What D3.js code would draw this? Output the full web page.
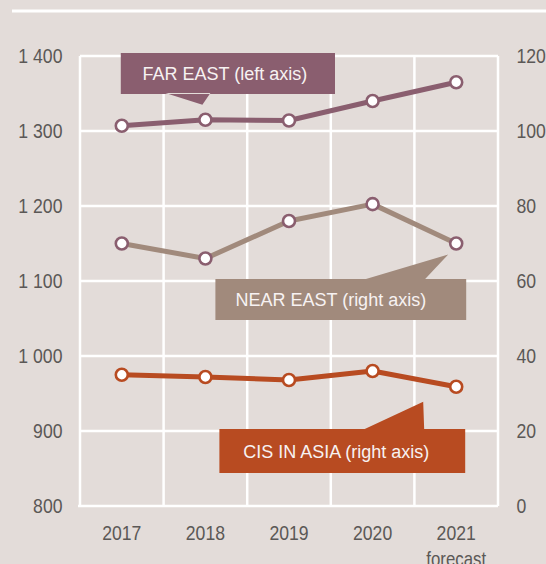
<!DOCTYPE html>
<html>
<head>
<meta charset="utf-8">
<script src="https://cdn.jsdelivr.net/npm/d3@7"></script>
<style>
  html, body { margin: 0; padding: 0; background: #e3dcd9; }
  svg { display: block; }
</style>
</head>
<body>
<div id="chart"></div>
<script>
const years = ["2017", "2018", "2019", "2020", "2021"];
const farEast = [1307, 1315, 1314, 1340, 1365];   // left axis
const nearEast = [70, 66, 76, 80.5, 70];          // right axis
const cisAsia = [35, 34.4, 33.6, 36, 31.8];       // right axis
const leftTicks = [800, 900, 1000, 1100, 1200, 1300, 1400];
const rightTicks = [0, 20, 40, 60, 80, 100, 120];

const width = 546, height = 564;
const margin = { top: 56, right: 48, bottom: 58, left: 80 };

const cFar = "#8a5e6f", cNear = "#a18a7c", cCis = "#b84b21";
const axisFont = "'Liberation Sans', Arial, sans-serif";
const narrow = "scale(0.84,1)"; // the original uses a condensed face

const svg = d3.select("#chart")
  .append("svg")
  .attr("width", width)
  .attr("height", height)
  .attr("viewBox", [0, 0, width, height]);

svg.append("rect")
  .attr("width", width)
  .attr("height", height)
  .attr("fill", "#e3dcd9");

// white rule under the (cut off) header
svg.append("line")
  .attr("x1", 12).attr("x2", width)
  .attr("y1", 11).attr("y2", 11)
  .attr("stroke", "#fff")
  .attr("stroke-width", 3);

const x = d3.scaleBand()
  .domain(years)
  .range([margin.left, width - margin.right])
  .padding(0);

const yL = d3.scaleLinear()
  .domain([800, 1400])
  .range([height - margin.bottom, margin.top]);

const yR = d3.scaleLinear()
  .domain([0, 120])
  .range([height - margin.bottom, margin.top]);

const cx = d => x(d) + x.bandwidth() / 2;

// grid
const grid = svg.append("g").attr("stroke", "#fff").attr("stroke-width", 2.5);
grid.selectAll(".h")
  .data(leftTicks)
  .join("line")
  .attr("x1", d => d === 800 ? margin.left - 2 : margin.left)
  .attr("x2", width - margin.right)
  .attr("y1", d => yL(d))
  .attr("y2", d => yL(d));

grid.selectAll(".v")
  .data(years.map(d => x(d)).concat([x.range()[1]]))
  .join("line")
  .attr("x1", d => d)
  .attr("x2", d => d)
  .attr("y1", margin.top)
  .attr("y2", height - margin.bottom);

const styleTicks = g => g.selectAll("text")
  .attr("font-family", axisFont)
  .attr("font-size", 21)
  .attr("fill", "#5b5856")
  .attr("transform", narrow);

// left axis
svg.append("g")
  .attr("transform", `translate(${margin.left - 15},0)`)
  .call(d3.axisLeft(yL).tickValues(leftTicks).tickSize(0)
    .tickFormat(d => d3.format(",")(d).replace(",", " ")))
  .call(g => g.select(".domain").remove())
  .call(styleTicks);

// right axis
svg.append("g")
  .attr("transform", `translate(${width - margin.right + 16},0)`)
  .call(d3.axisRight(yR).tickValues(rightTicks).tickSize(0))
  .call(g => g.select(".domain").remove())
  .call(styleTicks);

// bottom axis
svg.append("g")
  .attr("transform", `translate(0,${height - margin.bottom + 16})`)
  .call(d3.axisBottom(x).tickSize(0))
  .call(g => g.select(".domain").remove())
  .call(styleTicks);

svg.append("g")
  .attr("transform", `translate(${cx("2021")},566)`)
  .append("text")
  .attr("text-anchor", "middle")
  .attr("font-family", axisFont)
  .attr("font-size", 20)
  .attr("fill", "#5b5856")
  .attr("transform", narrow)
  .text("forecast");

// callouts
const calloutFont = "'Liberation Sans', Arial, sans-serif";
function callout(o) {
  const g = svg.append("g");
  g.append("path")
    .attr("fill", o.color)
    .attr("d", `M${o.x0},${o.y0}H${o.x1}V${o.y1}H${o.x0}Z` +
      `M${o.b0},${o.by}L${o.tip[0]},${o.tip[1]}L${o.b1},${o.by}Z`);
  g.append("text")
    .attr("x", (o.x0 + o.x1) / 2 + (o.dx || 0))
    .attr("y", (o.y0 + o.y1) / 2 + 6.5)
    .attr("text-anchor", "middle")
    .attr("font-family", calloutFont)
    .attr("font-size", 18)
    .attr("fill", "#f7f2f2")
    .text(o.text);
}

callout({ text: "FAR EAST (left axis)", color: cFar,
  x0: cx("2017") - 1, x1: cx("2019") + 46, y0: 53, y1: 94,
  b0: cx("2018") - 40, b1: cx("2018") + 5, by: 93, tip: [cx("2018") - 3, yL(farEast[1]) - 15], dx: -3 });

callout({ text: "NEAR EAST (right axis)", color: cNear,
  x0: cx("2018") + 10, x1: cx("2021") + 10, y0: 279, y1: 320,
  b0: cx("2020") - 10, b1: cx("2021") - 32, by: 280, tip: [cx("2021") - 8, yR(nearEast[4]) + 11], dx: -10 });

callout({ text: "CIS IN ASIA (right axis)", color: cCis,
  x0: cx("2018") + 14, x1: cx("2021") + 9, y0: 429, y1: 473,
  b0: cx("2020") - 10, b1: cx("2021") - 32, by: 430, tip: [cx("2021") - 33, yR(cisAsia[4]) + 15], dx: -6 });

// lines and markers
const series = [
  { values: farEast, y: yL, color: cFar, marker: cFar },
  { values: nearEast, y: yR, color: cNear, marker: cFar },
  { values: cisAsia, y: yR, color: cCis, marker: cCis }
];

series.forEach(s => {
  const line = d3.line()
    .x((d, i) => cx(years[i]))
    .y(d => s.y(d));

  svg.append("path")
    .datum(s.values)
    .attr("fill", "none")
    .attr("stroke", s.color)
    .attr("stroke-width", 5)
    .attr("stroke-linejoin", "round")
    .attr("d", line);

  svg.append("g")
    .selectAll("circle")
    .data(s.values)
    .join("circle")
    .attr("cx", (d, i) => cx(years[i]))
    .attr("cy", d => s.y(d))
    .attr("r", 6)
    .attr("fill", "#fff")
    .attr("stroke", s.marker)
    .attr("stroke-width", 2.6);
});
</script>
</body>
</html>
